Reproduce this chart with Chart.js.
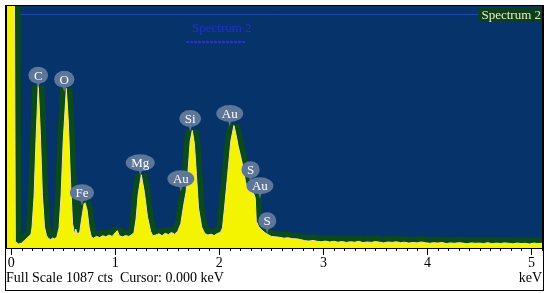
<!DOCTYPE html>
<html>
<head>
<meta charset="utf-8">
<script src="https://cdn.jsdelivr.net/npm/chart.js@4.4.0/dist/chart.umd.min.js"></script>
<style>
	html, body { margin: 0; padding: 0; background: #fff; }
</style>
</head>
<body>
<canvas id="spectrum" width="550" height="293"></canvas>
<script>
// spectrum data (energy in keV, counts)
const energy = [
	-0.04, 0.03, 0.04, 0.07, 0.10, 0.13, 0.16, 0.19,
	0.20, 0.22, 0.24, 0.26, 0.28, 0.30, 0.32, 0.34,
	0.36, 0.38, 0.40, 0.42, 0.44,
	0.46, 0.48, 0.50, 0.53, 0.55, 0.57, 0.59, 0.61,
	0.62, 0.64, 0.66, 0.68, 0.70, 0.71, 0.73, 0.75, 0.77,
	0.79, 0.82, 0.85, 0.88, 0.91, 0.94, 0.97, 1.00, 1.02, 1.04, 1.07, 1.10, 1.13, 1.16,
	1.18, 1.20, 1.22, 1.25, 1.28, 1.31, 1.34, 1.36,
	1.39, 1.42, 1.45, 1.48, 1.51, 1.54, 1.57,
	1.60, 1.63, 1.66, 1.68, 1.70, 1.72, 1.74, 1.76, 1.78, 1.80, 1.83, 1.86,
	1.89, 1.92, 1.95, 1.98, 2.01,
	2.03, 2.05, 2.08, 2.11, 2.14, 2.16, 2.18, 2.21, 2.23, 2.25, 2.27, 2.29, 2.31, 2.33, 2.345, 2.355, 2.38, 2.41, 2.44, 2.47, 2.50,
	2.54, 2.58, 2.62, 2.66, 2.70, 2.74, 2.78, 2.82, 2.86, 2.90,
	2.94, 2.98, 3.02, 3.06, 3.10, 3.14, 3.18, 3.22, 3.26, 3.30,
	3.34, 3.38, 3.42, 3.46, 3.50, 3.54, 3.58, 3.62, 3.66, 3.70,
	3.74, 3.78, 3.82, 3.86, 3.90, 3.94, 3.98, 4.02, 4.06, 4.10,
	4.14, 4.18, 4.22, 4.26, 4.30, 4.34, 4.38, 4.42, 4.46, 4.50,
	4.54, 4.58, 4.62, 4.66, 4.70, 4.74, 4.78, 4.82, 4.86, 4.90,
	4.94, 4.98, 5.02, 5.06, 5.10
];
const counts = [
	1400, 1400, 30, 18, 22, 35, 48, 62,
	90, 230, 500, 731, 520, 240, 95, 55,
	42, 38, 45, 40, 52,
	90, 240, 480, 717, 560, 300, 110, 60,
	85, 60, 75, 140, 198, 203, 170, 90, 50,
	44, 52, 47, 55, 50, 58, 52, 68, 78, 55, 50, 56, 52, 60,
	70, 130, 240, 329, 250, 140, 75, 55,
	58, 64, 55, 66, 60, 70, 62,
	75, 110, 200, 250, 350, 480, 528, 470, 330, 180, 95, 65,
	58, 62, 56, 65, 70,
	90, 180, 330, 480, 550, 510, 460, 400, 360, 300, 262, 255, 250, 245, 225, 120, 95, 80, 68, 60, 52,
	50, 48, 44, 46, 42, 41, 38, 33, 31, 34,
	30, 28, 31, 27, 30, 26, 29, 25, 28, 26,
	30, 24, 27, 25, 29, 26, 23, 27, 25, 28,
	24, 26, 22, 25, 23, 27, 24, 21, 24, 22,
	25, 20, 23, 21, 24, 22, 19, 23, 21, 22,
	20, 24, 19, 22, 20, 23, 21, 19, 22, 20,
	21, 18, 22, 20, 21
];

// element markers
const peakNames = ["C", "O", "Fe", "Mg", "Au", "Si", "Au", "S", "Au", "S"];
const peakEnergy = [0.26, 0.51, 0.68, 1.24, 1.63, 1.72, 2.10, 2.30, 2.39, 2.46];
const peakCounts = [776, 758, 248, 383, 311, 582, 604, 352, 280, 122];

// axis
const tickValues = [0, 1, 2, 3, 4, 5];
const fullScale = 1087;
const spectrumName = "Spectrum 2";
const statusText = "Full Scale 1087 cts  Cursor: 0.000 keV";

const points = energy.map((e, i) => ({ x: e, y: counts[i] }));

const SERIF = "'Liberation Serif', 'DejaVu Serif', serif";

const decor = {
	id: "decor",
	beforeDatasetsDraw(chart) {
		const { ctx, chartArea: a } = chart;
		ctx.save();
		ctx.fillStyle = "#06346a";
		ctx.fillRect(a.left, a.top, a.right - a.left, a.bottom - a.top);
		// faint top line
		ctx.strokeStyle = "#1d4aa8";
		ctx.lineWidth = 1;
		ctx.beginPath();
		ctx.moveTo(a.left + 8, a.top + 8.5);
		ctx.lineTo(a.right, a.top + 8.5);
		ctx.stroke();
		// ghost title
		ctx.font = "13px " + SERIF;
		ctx.fillStyle = "#1f32c8";
		ctx.textBaseline = "alphabetic";
		ctx.fillText(spectrumName, 192, 32);
		ctx.setLineDash([3, 1]);
		ctx.strokeStyle = "#2636c0";
		ctx.lineWidth = 2;
		ctx.beginPath();
		ctx.moveTo(186, 42);
		ctx.lineTo(246, 42);
		ctx.stroke();
		ctx.restore();
	},
	afterDatasetsDraw(chart) {
		const { ctx } = chart;
		const xs = chart.scales.x, ys = chart.scales.y;
		ctx.save();
		ctx.font = "13px " + SERIF;
		ctx.textAlign = "center";
		ctx.textBaseline = "middle";
		peakNames.forEach((name, i) => {
			const px = xs.getPixelForValue(peakEnergy[i]);
			const py = ys.getPixelForValue(peakCounts[i]);
			const w = ctx.measureText(name).width + 11;
			ctx.fillStyle = "#5e7698";
			ctx.beginPath();
			ctx.ellipse(px, py, w / 2, 8.5, 0, 0, Math.PI * 2);
			ctx.fill();
			ctx.beginPath();
			ctx.moveTo(px - 2, py + 6);
			ctx.lineTo(px + 2, py + 6);
			ctx.lineTo(px, py + 13);
			ctx.closePath();
			ctx.fill();
			ctx.fillStyle = "#ffffff";
			ctx.fillText(name, px, py + 1);
		});
		ctx.restore();
	},
	afterDraw(chart) {
		const { ctx, chartArea: a } = chart;
		const xs = chart.scales.x;
		ctx.save();
		// minor ticks
		ctx.strokeStyle = "#000";
		ctx.lineWidth = 1;
		for (let k = 0; k <= 51; k++) {
			if (k % 10 === 0) continue;
			const px = Math.round(xs.getPixelForValue(k / 10)) + 0.5;
			ctx.beginPath();
			ctx.moveTo(px, a.bottom);
			ctx.lineTo(px, a.bottom + 3);
			ctx.stroke();
		}
		// spectrum name box
		ctx.font = "13px " + SERIF;
		const tw = ctx.measureText(spectrumName).width;
		ctx.fillStyle = "#0d3f1c";
		ctx.fillRect(a.right - tw - 4, a.top + 1, tw + 4, 15);
		ctx.fillStyle = "#e4f0c4";
		ctx.textAlign = "right";
		ctx.textBaseline = "alphabetic";
		ctx.fillText(spectrumName, a.right - 1, a.top + 13);
		// status line
		ctx.font = "14px " + SERIF;
		ctx.fillStyle = "#000";
		ctx.textAlign = "left";
		ctx.fillText(statusText, 6, 282);
		ctx.textAlign = "right";
		ctx.fillText("keV", a.right, 282);
		// frame
		ctx.strokeStyle = "#000";
		ctx.lineWidth = 1;
		ctx.strokeRect(5.5, 5.5, 538, 285);
		ctx.strokeRect(a.left - 0.5, a.top - 0.5, a.right - a.left + 1, a.bottom - a.top + 1);
		ctx.restore();
	}
};

new Chart(document.getElementById("spectrum"), {
	type: "line",
	data: {
		datasets: [
			{
				label: "envelope",
				data: points,
				borderColor: "#0b4a1b",
				borderWidth: 12,
				borderJoinStyle: "bevel",
				pointRadius: 0,
				fill: false,
				tension: 0,
				clip: 0,
				order: 2
			},
			{
				label: "spectrum",
				data: points,
				borderColor: "#f1e4a4",
				borderWidth: 1,
				backgroundColor: "#f4f400",
				pointRadius: 0,
				fill: "origin",
				tension: 0,
				clip: 0,
				order: 1
			}
		]
	},
	options: {
		responsive: false,
		animation: false,
		layout: { padding: { left: 7, right: 8, top: 6, bottom: 15 } },
		plugins: {
			legend: { display: false },
			tooltip: { enabled: false }
		},
		scales: {
			x: {
				type: "linear",
				min: -0.04,
				max: 5.1,
				afterFit(scale) { scale.height = 30; },
				afterBuildTicks(scale) { scale.ticks = tickValues.map((v) => ({ value: v })); },
				border: { display: true, color: "#000", width: 1 },
				grid: { drawOnChartArea: false, drawTicks: true, tickLength: 7, color: "#000" },
				ticks: {
					color: "#000",
					padding: 0,
					maxRotation: 0,
					font: { family: SERIF, size: 14 }
				}
			},
			y: {
				display: false,
				min: 0,
				max: fullScale
			}
		}
	},
	plugins: [decor]
});
</script>
</body>
</html>
